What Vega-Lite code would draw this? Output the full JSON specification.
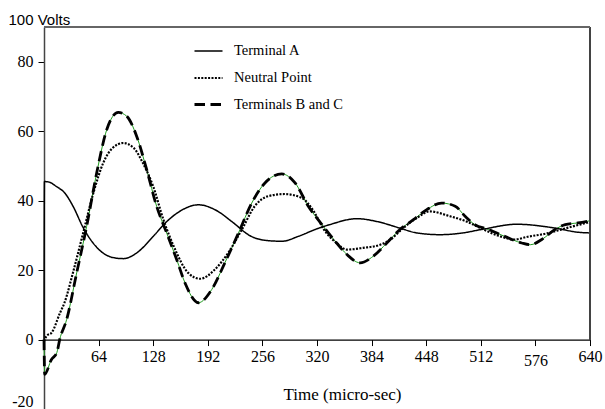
{
  "$schema": "https://vega.github.io/schema/vega-lite/v6.json",
  "width": 546,
  "height": 382,
  "autosize": {"type": "none"},
  "padding": {"left": 44, "top": 27, "right": 15, "bottom": 0},
  "background": "white",
  "config": {"view": {"stroke": null}},
  "data": {"values": [
    {"series": "Terminal A", "t": 0, "v": 0},
    {"series": "Terminal A", "t": 0.5, "v": 45.5},
    {"series": "Terminal A", "t": 5, "v": 45.4},
    {"series": "Terminal A", "t": 15, "v": 44},
    {"series": "Terminal A", "t": 24, "v": 42.3},
    {"series": "Terminal A", "t": 34, "v": 38.4},
    {"series": "Terminal A", "t": 46, "v": 32.2},
    {"series": "Terminal A", "t": 62, "v": 26.5},
    {"series": "Terminal A", "t": 81, "v": 23.6},
    {"series": "Terminal A", "t": 93, "v": 23.3},
    {"series": "Terminal A", "t": 109, "v": 25},
    {"series": "Terminal A", "t": 128, "v": 29.7},
    {"series": "Terminal A", "t": 144, "v": 34},
    {"series": "Terminal A", "t": 159, "v": 36.9},
    {"series": "Terminal A", "t": 181, "v": 38.8},
    {"series": "Terminal A", "t": 204, "v": 36.9},
    {"series": "Terminal A", "t": 220, "v": 34},
    {"series": "Terminal A", "t": 243, "v": 29.7},
    {"series": "Terminal A", "t": 262, "v": 28.5},
    {"series": "Terminal A", "t": 279, "v": 28.3},
    {"series": "Terminal A", "t": 298, "v": 29.7},
    {"series": "Terminal A", "t": 318, "v": 31.7},
    {"series": "Terminal A", "t": 335, "v": 33.1},
    {"series": "Terminal A", "t": 367, "v": 34.8},
    {"series": "Terminal A", "t": 390, "v": 34},
    {"series": "Terminal A", "t": 417, "v": 32.1},
    {"series": "Terminal A", "t": 437, "v": 30.7},
    {"series": "Terminal A", "t": 464, "v": 30.2},
    {"series": "Terminal A", "t": 488, "v": 30.6},
    {"series": "Terminal A", "t": 515, "v": 31.8},
    {"series": "Terminal A", "t": 554, "v": 33.2},
    {"series": "Terminal A", "t": 599, "v": 32.1},
    {"series": "Terminal A", "t": 626, "v": 30.9},
    {"series": "Terminal A", "t": 640, "v": 30.7},
    {"series": "Neutral Point", "t": 0, "v": -0.5},
    {"series": "Neutral Point", "t": 3, "v": 1},
    {"series": "Neutral Point", "t": 9, "v": 2},
    {"series": "Neutral Point", "t": 19, "v": 7.8},
    {"series": "Neutral Point", "t": 24, "v": 10.6},
    {"series": "Neutral Point", "t": 34, "v": 19.3},
    {"series": "Neutral Point", "t": 46, "v": 30.8},
    {"series": "Neutral Point", "t": 58, "v": 42.3},
    {"series": "Neutral Point", "t": 69.5, "v": 50.9},
    {"series": "Neutral Point", "t": 81, "v": 55.3},
    {"series": "Neutral Point", "t": 93, "v": 56.6},
    {"series": "Neutral Point", "t": 105, "v": 55.2},
    {"series": "Neutral Point", "t": 116, "v": 50.8},
    {"series": "Neutral Point", "t": 128, "v": 44.1},
    {"series": "Neutral Point", "t": 140, "v": 34.5},
    {"series": "Neutral Point", "t": 152, "v": 26.9},
    {"series": "Neutral Point", "t": 169, "v": 19.2},
    {"series": "Neutral Point", "t": 183, "v": 17.5},
    {"series": "Neutral Point", "t": 200, "v": 20.1},
    {"series": "Neutral Point", "t": 216, "v": 25},
    {"series": "Neutral Point", "t": 232, "v": 31.7},
    {"series": "Neutral Point", "t": 247, "v": 38.4},
    {"series": "Neutral Point", "t": 263, "v": 41.3},
    {"series": "Neutral Point", "t": 282, "v": 41.9},
    {"series": "Neutral Point", "t": 302, "v": 40.8},
    {"series": "Neutral Point", "t": 316, "v": 37},
    {"series": "Neutral Point", "t": 328, "v": 31.7},
    {"series": "Neutral Point", "t": 343, "v": 27.8},
    {"series": "Neutral Point", "t": 355, "v": 25.9},
    {"series": "Neutral Point", "t": 374, "v": 26.4},
    {"series": "Neutral Point", "t": 394, "v": 27.3},
    {"series": "Neutral Point", "t": 406, "v": 28.8},
    {"series": "Neutral Point", "t": 421, "v": 32.1},
    {"series": "Neutral Point", "t": 437, "v": 35},
    {"series": "Neutral Point", "t": 452, "v": 36.9},
    {"series": "Neutral Point", "t": 476, "v": 35.5},
    {"series": "Neutral Point", "t": 495, "v": 34},
    {"series": "Neutral Point", "t": 515, "v": 31.7},
    {"series": "Neutral Point", "t": 535, "v": 29.7},
    {"series": "Neutral Point", "t": 551, "v": 28.8},
    {"series": "Neutral Point", "t": 567, "v": 29.6},
    {"series": "Neutral Point", "t": 588, "v": 30.5},
    {"series": "Neutral Point", "t": 608, "v": 31.8},
    {"series": "Neutral Point", "t": 628, "v": 33.1},
    {"series": "Neutral Point", "t": 640, "v": 33.9},
    {"series": "Terminals B and C", "t": 0, "v": 0},
    {"series": "Terminals B and C", "t": 0.8, "v": -10},
    {"series": "Terminals B and C", "t": 8.6, "v": -5.8},
    {"series": "Terminals B and C", "t": 15, "v": -3.8},
    {"series": "Terminals B and C", "t": 18.4, "v": 0},
    {"series": "Terminals B and C", "t": 26.6, "v": 5.8},
    {"series": "Terminals B and C", "t": 38.3, "v": 19.2},
    {"series": "Terminals B and C", "t": 50, "v": 32.6},
    {"series": "Terminals B and C", "t": 61.8, "v": 48},
    {"series": "Terminals B and C", "t": 73.5, "v": 60.4},
    {"series": "Terminals B and C", "t": 87, "v": 65.4},
    {"series": "Terminals B and C", "t": 97, "v": 64.3},
    {"series": "Terminals B and C", "t": 108.7, "v": 58.5},
    {"series": "Terminals B and C", "t": 120.4, "v": 48.9},
    {"series": "Terminals B and C", "t": 132, "v": 38.4},
    {"series": "Terminals B and C", "t": 143.8, "v": 30.7},
    {"series": "Terminals B and C", "t": 155.6, "v": 23},
    {"series": "Terminals B and C", "t": 165.3, "v": 16.3},
    {"series": "Terminals B and C", "t": 181, "v": 10.6},
    {"series": "Terminals B and C", "t": 196.6, "v": 14.4},
    {"series": "Terminals B and C", "t": 212, "v": 22.1},
    {"series": "Terminals B and C", "t": 228, "v": 30.7},
    {"series": "Terminals B and C", "t": 243.5, "v": 39.3},
    {"series": "Terminals B and C", "t": 259, "v": 45.1},
    {"series": "Terminals B and C", "t": 278.7, "v": 47.7},
    {"series": "Terminals B and C", "t": 294.3, "v": 45.1},
    {"series": "Terminals B and C", "t": 309.8, "v": 38.4},
    {"series": "Terminals B and C", "t": 327.4, "v": 32.6},
    {"series": "Terminals B and C", "t": 343, "v": 27.8},
    {"series": "Terminals B and C", "t": 355, "v": 24.5},
    {"series": "Terminals B and C", "t": 370.5, "v": 22.1},
    {"series": "Terminals B and C", "t": 386, "v": 24},
    {"series": "Terminals B and C", "t": 401.8, "v": 27.8},
    {"series": "Terminals B and C", "t": 417.3, "v": 31.7},
    {"series": "Terminals B and C", "t": 433, "v": 34.5},
    {"series": "Terminals B and C", "t": 448.7, "v": 37.4},
    {"series": "Terminals B and C", "t": 466, "v": 39.3},
    {"series": "Terminals B and C", "t": 482, "v": 38.4},
    {"series": "Terminals B and C", "t": 493.6, "v": 35.5},
    {"series": "Terminals B and C", "t": 505, "v": 33.1},
    {"series": "Terminals B and C", "t": 521, "v": 31.7},
    {"series": "Terminals B and C", "t": 540, "v": 29.7},
    {"series": "Terminals B and C", "t": 560, "v": 27.8},
    {"series": "Terminals B and C", "t": 570, "v": 27.3},
    {"series": "Terminals B and C", "t": 583.5, "v": 28.8},
    {"series": "Terminals B and C", "t": 599, "v": 31.7},
    {"series": "Terminals B and C", "t": 611, "v": 33.1},
    {"series": "Terminals B and C", "t": 626, "v": 33.6},
    {"series": "Terminals B and C", "t": 640, "v": 34.2}
  ]},
  "layer": [
    {
      "transform": [{"filter": "datum.series === 'Terminals B and C'"}],
      "mark": {"type": "line", "color": "#1f9a1f", "strokeWidth": 1, "interpolate": "monotone"},
      "encoding": {
        "x": {"field": "t", "type": "quantitative", "title": "Time (micro-sec)"},
        "y": {"field": "v", "type": "quantitative", "title": "100 Volts"}
      }
    },
    {
      "mark": {"type": "line", "color": "black", "interpolate": "monotone"},
      "encoding": {
        "x": {
          "field": "t", "type": "quantitative",
          "scale": {"domain": [0, 640], "nice": false, "zero": false},
          "axis": {
            "title": "Time (micro-sec)",
            "titleFont": "Liberation Serif", "titleFontSize": 17, "titleFontWeight": "normal", "titleColor": "black",
            "titleX": 298, "titleAlign": "center", "titlePadding": 18,
            "values": [64, 128, 192, 256, 320, 384, 448, 512, 576, 640],
            "labelFont": "Liberation Serif",
            "labelFontSize": 16, "labelColor": "black",
            "labelPadding": {"condition": {"test": "datum.value === 576", "value": 7}, "value": 3},
            "labelOverlap": false, "labelFlush": false,
            "tickSize": 6, "tickColor": "black", "domainColor": "black", "domainWidth": 1.2,
            "grid": false, "offset": -69.45,
            "encode": {"labels": {"update": {"font": {"signal": "datum.value >= 384 && datum.value <= 576 ? 'Liberation Sans' : 'Liberation Serif'"}}}}
          }
        },
        "y": {
          "field": "v", "type": "quantitative",
          "scale": {"domain": [-20, 90], "nice": false, "zero": false},
          "axis": {
            "title": "100 Volts", "titleAngle": 0, "titleX": -36, "titleY": -3,
            "titleAlign": "left", "titleBaseline": "alphabetic",
            "titleFont": "Liberation Sans", "titleFontSize": 15, "titleFontWeight": "normal", "titleColor": "black",
            "values": [-20, -10, 0, 10, 20, 30, 40, 50, 60, 70, 80],
            "labelExpr": "datum.value % 20 === 0 ? '' + datum.value : ''",
            "labelFont": "Liberation Serif",
            "labelFontSize": 16, "labelColor": "black", "labelPadding": 5, "labelFlush": true,
            "tickSize": 6, "tickColor": "black", "domainColor": "#444", "domainWidth": 1.5,
            "grid": false,
            "encode": {"labels": {"update": {"font": {"signal": "datum.value <= 0 ? 'Liberation Sans' : 'Liberation Serif'"}}}}
          }
        },
        "strokeDash": {
          "field": "series", "type": "nominal",
          "scale": {"domain": ["Terminal A", "Neutral Point", "Terminals B and C"], "range": [[1, 0], [2, 1.4], [10.5, 5.5]]},
          "legend": {
            "orient": "none", "legendX": 149, "legendY": 9, "title": null,
            "symbolType": "stroke", "symbolSize": 784, "symbolStrokeColor": "black",
            "labelFont": "Liberation Serif", "labelFontSize": 14.5, "labelColor": "black",
            "labelOffset": 10, "rowPadding": 4.5, "padding": 0, "labelLimit": 300,
            "encode": {"symbols": {"update": {"strokeWidth": {"signal": "datum.value === 'Terminal A' ? 1.5 : datum.value === 'Neutral Point' ? 2.8 : 3"}}}}
          }
        },
        "strokeWidth": {
          "field": "series", "type": "ordinal",
          "scale": {"domain": ["Terminal A", "Neutral Point", "Terminals B and C"], "range": [1.5, 2.8, 3]},
          "legend": null
        }
      }
    },
    {
      "mark": {"type": "rule", "color": "#444", "strokeWidth": 1.2},
      "encoding": {
        "x": {"datum": 640, "type": "quantitative"},
        "y": {"datum": 0, "type": "quantitative"},
        "y2": {"datum": 90}
      }
    },
    {
      "mark": {"type": "rule", "color": "#666", "strokeWidth": 2},
      "encoding": {
        "x": {"datum": 0, "type": "quantitative"},
        "x2": {"datum": 640},
        "y": {"datum": 90, "type": "quantitative"}
      }
    }
  ]
}
